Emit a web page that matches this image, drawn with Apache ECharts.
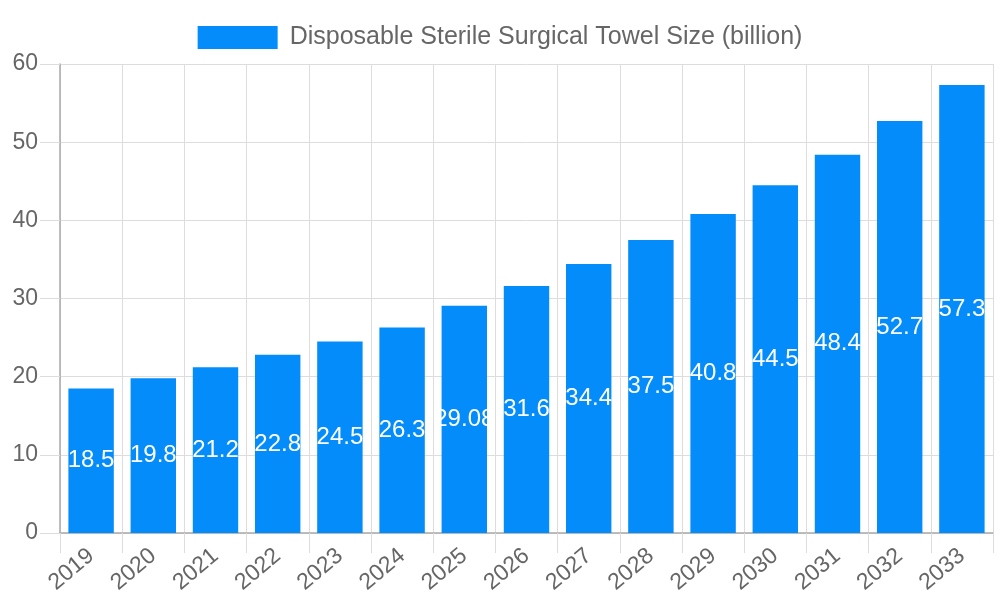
<!DOCTYPE html>
<html><head><meta charset="utf-8">
<script src="https://cdn.jsdelivr.net/npm/echarts@6/dist/echarts.min.js"></script>
<style>html,body{margin:0;padding:0;background:#fff}#c{width:1000px;height:600px}</style>
</head><body><div id="c"></div>
<script>
const categories = ['2019','2020','2021','2022','2023','2024','2025','2026','2027','2028','2029','2030','2031','2032','2033'];
const sizeValues = [18.5,19.8,21.2,22.8,24.5,26.3,29.08,31.6,34.4,37.5,40.8,44.5,48.4,52.7,57.3];
const seriesName = 'Disposable Sterile Surgical Towel Size (billion)';
const chart = echarts.init(document.getElementById('c'));
const font = 'Liberation Sans, Arial, sans-serif';
chart.setOption({
  animation:false,
  legend:{top:20,left:'center',icon:'rect',itemWidth:80,itemHeight:23,itemGap:12,
    textStyle:{color:'#666',fontSize:25,fontFamily:font,padding:[0,0,0,7]},data:[seriesName]},
  grid:{left:60,right:7,top:64,bottom:67},
  xAxis:{type:'category',data:categories,boundaryGap:true,
    axisLine:{lineStyle:{color:'#aaa',width:1.5}},
    axisTick:{show:true,length:20,lineStyle:{color:'#ddd'}},
    splitLine:{show:true,lineStyle:{color:'#ddd'}},
    axisLabel:{rotate:40,color:'#666',fontSize:23,fontFamily:font,margin:20,interval:0}},
  yAxis:{type:'value',min:0,max:60,interval:10,
    axisLine:{show:true,lineStyle:{color:'#aaa',width:1.5}},
    axisTick:{show:true,length:20,lineStyle:{color:'#ddd'}},
    splitLine:{lineStyle:{color:'#ddd'}},
    axisLabel:{color:'#666',fontSize:23,fontFamily:font,margin:22}},
  series:[{name:seriesName,type:'bar',data:sizeValues,barCategoryGap:'27%',
    itemStyle:{color:'#038CFA'},
    label:{show:true,position:'inside',color:'#fff',fontSize:24,fontFamily:font}}]
});
</script></body></html>
